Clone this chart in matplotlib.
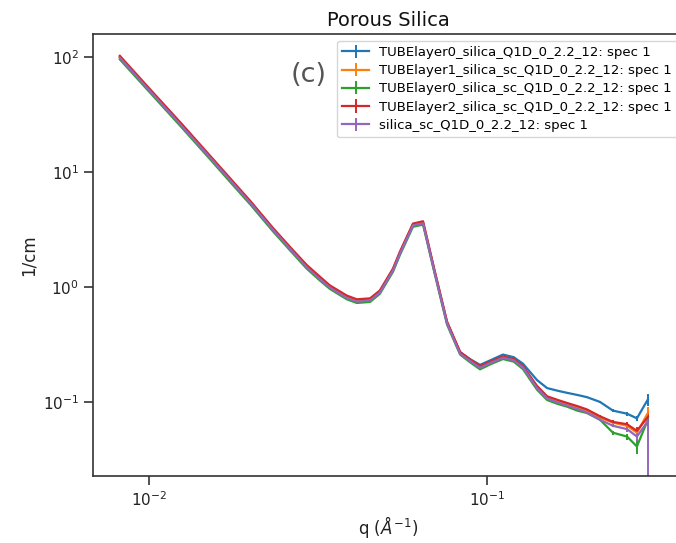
import numpy as np
import matplotlib
matplotlib.use("Agg")
import matplotlib.pyplot as plt
from matplotlib.ticker import NullLocator

# Scattering vector q (1/Angstrom)
q = [0.0082, 0.0100, 0.0125, 0.0150, 0.0175, 0.0200, 0.0233, 0.0265, 0.0293,
     0.0320, 0.0343, 0.0385, 0.0412, 0.0451, 0.0482, 0.0527, 0.0553, 0.0604,
     0.0647, 0.0700, 0.0762, 0.0833, 0.0890, 0.0954, 0.1030, 0.1115, 0.1200,
     0.1278, 0.1406, 0.1506, 0.1620, 0.1725, 0.1850, 0.1977, 0.2160, 0.2360,
     0.2597, 0.2778, 0.2993]

# Intensity (1/cm) for each sample
tube0_silica = [99, 52, 25.3, 13.9, 8.35, 5.37, 3.15, 2.07, 1.50,
                1.19, 1.00, 0.815, 0.755, 0.770, 0.905, 1.40, 1.97, 3.45,
                3.60, 1.35, 0.486, 0.270, 0.236, 0.210, 0.232, 0.258, 0.245,
                0.215, 0.155, 0.132, 0.125, 0.120, 0.115, 0.110, 0.100, 0.084,
                0.079, 0.072, 0.105]
tube1_silica_sc = [100.5, 52.5, 25.6, 14.0, 8.45, 5.43, 3.18, 2.09, 1.52,
                   1.20, 1.01, 0.825, 0.763, 0.778, 0.915, 1.415, 1.99, 3.49,
                   3.64, 1.37, 0.49, 0.268, 0.232, 0.203, 0.224, 0.246, 0.234,
                   0.203, 0.136, 0.110, 0.102, 0.096, 0.090, 0.084, 0.073, 0.066,
                   0.062, 0.054, 0.080]
tube0_silica_sc = [95, 50, 24.3, 13.35, 8.0, 5.16, 3.03, 1.99, 1.44,
                   1.14, 0.96, 0.78, 0.725, 0.74, 0.87, 1.35, 1.90, 3.33,
                   3.48, 1.31, 0.47, 0.258, 0.222, 0.192, 0.214, 0.236, 0.224,
                   0.193, 0.128, 0.104, 0.096, 0.091, 0.084, 0.080, 0.070, 0.054,
                   0.050, 0.041, 0.070]
tube2_silica_sc = [102, 53.5, 26.1, 14.3, 8.6, 5.53, 3.24, 2.13, 1.55,
                   1.23, 1.03, 0.84, 0.78, 0.795, 0.93, 1.44, 2.03, 3.55,
                   3.72, 1.39, 0.50, 0.272, 0.235, 0.205, 0.226, 0.248, 0.236,
                   0.205, 0.138, 0.112, 0.104, 0.098, 0.092, 0.086, 0.075, 0.067,
                   0.064, 0.056, 0.074]
silica_sc = [98, 51.5, 25.0, 13.75, 8.27, 5.32, 3.12, 2.05, 1.48,
             1.17, 0.985, 0.80, 0.745, 0.760, 0.895, 1.385, 1.95, 3.42,
             3.57, 1.34, 0.482, 0.262, 0.228, 0.198, 0.220, 0.242, 0.230,
             0.199, 0.132, 0.107, 0.099, 0.093, 0.087, 0.081, 0.070, 0.062,
             0.058, 0.050, 0.068]

# Lower / upper uncertainties on the last five points
# (earlier points have negligible error)
err_lo_tube0_silica = [0.002, 0.002, 0.003, 0.004, 0.013]
err_hi_tube0_silica = [0.002, 0.002, 0.003, 0.004, 0.013]
err_lo_tube1_silica_sc = [0.002, 0.002, 0.003, 0.004, 0.010]
err_hi_tube1_silica_sc = [0.002, 0.002, 0.003, 0.004, 0.010]
err_lo_tube0_silica_sc = [0.002, 0.002, 0.003, 0.006, 0.008]
err_hi_tube0_silica_sc = [0.002, 0.002, 0.003, 0.006, 0.008]
err_lo_tube2_silica_sc = [0.002, 0.002, 0.003, 0.004, 0.008]
err_hi_tube2_silica_sc = [0.002, 0.002, 0.003, 0.004, 0.008]
err_lo_silica_sc = [0.002, 0.002, 0.003, 0.004, 0.070]
err_hi_silica_sc = [0.002, 0.002, 0.003, 0.004, 0.005]

labels = ["TUBElayer0_silica_Q1D_0_2.2_12: spec 1",
          "TUBElayer1_silica_sc_Q1D_0_2.2_12: spec 1",
          "TUBElayer0_silica_sc_Q1D_0_2.2_12: spec 1",
          "TUBElayer2_silica_sc_Q1D_0_2.2_12: spec 1",
          "silica_sc_Q1D_0_2.2_12: spec 1"]
series = [tube0_silica, tube1_silica_sc, tube0_silica_sc, tube2_silica_sc, silica_sc]
errors_lo = [err_lo_tube0_silica, err_lo_tube1_silica_sc, err_lo_tube0_silica_sc,
             err_lo_tube2_silica_sc, err_lo_silica_sc]
errors_hi = [err_hi_tube0_silica, err_hi_tube1_silica_sc, err_hi_tube0_silica_sc,
             err_hi_tube2_silica_sc, err_hi_silica_sc]

fig = plt.figure(figsize=(6.76, 5.43), dpi=100)
ax = fig.add_axes([0.1376, 0.1234, 0.8743, 0.8140])

for y, lo, hi, lab in zip(series, errors_lo, errors_hi, labels):
    pad = np.zeros(len(q) - len(lo))
    yerr = np.vstack([np.concatenate([pad, lo]), np.concatenate([pad, hi])])
    ax.errorbar(q, y, yerr=yerr, label=lab, linewidth=1.6, elinewidth=1.4)

ax.set_xscale("log")
ax.set_yscale("log")
ax.set_xlim(0.00683, 0.383)
ax.set_ylim(0.0227, 158)
ax.xaxis.set_minor_locator(NullLocator())
ax.yaxis.set_minor_locator(NullLocator())
ax.tick_params(axis="both", which="major", length=6.5, width=1.1,
               labelsize=11, colors="#222222")
for sp in ax.spines.values():
    sp.set_linewidth(1.2)
    sp.set_color("#333333")

ax.set_title("Porous Silica", fontsize=14, color="#111111")
ax.set_xlabel(r"q ($Å^{-1}$)", fontsize=12, color="#222222")
ax.set_ylabel("1/cm", fontsize=12, color="#222222")
ax.text(0.365, 0.907, "(c)", transform=ax.transAxes, fontsize=19.5,
        color="#555555", ha="center", va="center")
ax.legend(loc="upper right", fontsize=9.5, labelspacing=0.4)

fig.savefig("out.png", dpi=100)
